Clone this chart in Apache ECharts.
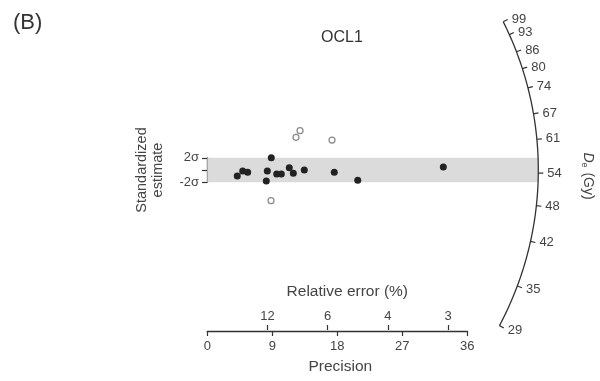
<!DOCTYPE html>
<html>
<head>
<meta charset="utf-8">
<script src="https://cdn.jsdelivr.net/npm/echarts@6/dist/echarts.min.js"></script>
<style>
  html, body { margin: 0; padding: 0; background: #fff; }
  #chart { width: 600px; height: 381px; }
</style>
</head>
<body>
<div id="chart"></div>
<script>
// values: precision (1/relative error) and standardized estimate
const inPrecision  = [4.15, 4.9, 5.59, 8.86, 8.31, 8.17, 9.61, 10.25, 11.35, 11.91, 13.43, 17.58, 20.83, 32.68];
const inStdEst     = [-0.99, -0.16, -0.38, 2.02, -0.16, -1.81, -0.66, -0.66, 0.38, -0.54, 0, -0.38, -1.70, 0.49];
// open circles = outside the 2 sigma band
const outPrecision = [12.28, 12.84, 17.27, 8.82];
const outStdEst    = [5.38, 6.46, 4.93, -5.05];

const centralDe = 54.6;   // Gy, the value on the horizontal line
const deTicks = [29, 35, 42, 48, 54, 61, 67, 74, 80, 86, 93, 99];
const relErrTicks = [12, 6, 4, 3];

const FONT = 'Liberation Sans, Arial, sans-serif';
const R = 331; // radius of the De arc, px

const inData = inPrecision.map((p, i) => [p, inStdEst[i]]);
const outData = outPrecision.map((p, i) => [p, outStdEst[i]]);

// angle (px space) of the ray from the origin for a given De
function rayAngle(api, o, v) {
  const p = api.coord([1, Math.log(v) - Math.log(centralDe)]);
  return Math.atan2(p[1] - o[1], p[0] - o[0]);
}

function renderBand(params, api) {
  const o = api.coord([0, 0]);
  const t = api.coord([0, 2]);
  const b = api.coord([0, -2]);
  const xt = o[0] + Math.sqrt(R * R - (t[1] - o[1]) ** 2);
  const xb = o[0] + Math.sqrt(R * R - (b[1] - o[1]) ** 2);
  return {
    type: 'polygon',
    shape: { points: [t, [xt, t[1]], [xb, b[1]], b] },
    style: { fill: '#dbdbdb' }
  };
}

function renderArc(params, api) {
  const o = api.coord([0, 0]);
  const a0 = rayAngle(api, o, deTicks[0]);
  const a1 = rayAngle(api, o, deTicks[deTicks.length - 1]);
  const pts = [];
  for (let i = 0; i <= 90; i++) {
    const a = a0 + (a1 - a0) * i / 90;
    pts.push([o[0] + R * Math.cos(a), o[1] + R * Math.sin(a)]);
  }
  const children = [{
    type: 'polyline', shape: { points: pts },
    style: { stroke: '#333', lineWidth: 1.3, fill: null }
  }];
  deTicks.forEach(v => {
    const a = rayAngle(api, o, v), c = Math.cos(a), s = Math.sin(a);
    const ex = o[0] + (R + 5) * c, ey = o[1] + (R + 5) * s;
    children.push({
      type: 'line',
      shape: { x1: o[0] + R * c, y1: o[1] + R * s, x2: ex, y2: ey },
      style: { stroke: '#333', lineWidth: 1.2 }
    });
    children.push({
      type: 'text',
      x: ex + 4, y: ey + (s > 0.3 ? 2 : 0),
      style: { text: String(v), align: 'left', verticalAlign: 'middle', fontSize: 13, fill: '#444', fontFamily: FONT }
    });
  });
  return { type: 'group', children };
}

const chart = echarts.init(document.getElementById('chart'));
chart.setOption({
  animation: false,
  backgroundColor: '#fff',
  textStyle: { fontFamily: FONT },
  title: {
    text: 'OCL1', left: 321, top: 30, padding: 0,
    textStyle: { fontSize: 16, fontWeight: 'normal', color: '#333', fontFamily: FONT }
  },
  graphic: [
    { type: 'text', left: 13, top: 12, style: { text: '(B)', fontSize: 22, fill: '#333', fontFamily: FONT } },
    {
      type: 'text', x: 588, y: 176, rotation: -Math.PI / 2,
      style: {
        text: '{d|D}{e|e} (Gy)', fontSize: 14, fill: '#444', fontFamily: FONT,
        align: 'center', verticalAlign: 'middle',
        rich: {
          d: { fontStyle: 'italic', fontSize: 14, fontFamily: FONT, fill: '#444' },
          e: { fontSize: 9, fontFamily: FONT, fill: '#444', verticalAlign: 'bottom', padding: [7, 1, 0, 0] }
        }
      }
    }
  ],
  grid: [
    { left: 207.3, top: 18, width: 260, height: 304 },   // plot area
    { left: 207.3, top: 330, width: 260, height: 1 },    // precision / relative error axes
    { left: 207, top: 157.84, width: 1, height: 24.32 }  // +-2 sigma bracket
  ],
  xAxis: [
    { gridIndex: 0, type: 'value', min: 0, max: 36, show: false },
    {
      gridIndex: 1, type: 'value', min: 0, max: 36, interval: 9, position: 'bottom',
      axisLine: { lineStyle: { color: '#333', width: 1.3 } },
      axisTick: { length: 5, lineStyle: { color: '#333', width: 1.2 } },
      axisLabel: { fontSize: 13, color: '#444', margin: 9 },
      splitLine: { show: false },
      name: 'Precision', nameLocation: 'middle', nameGap: 28,
      nameTextStyle: { fontSize: 15.5, color: '#444', padding: [0, 0, 0, 6] }
    },
    {
      gridIndex: 1, type: 'value', min: 0, max: 36, position: 'top',
      axisLine: { show: false },
      axisTick: { length: 5, customValues: relErrTicks.map(r => 100 / r), lineStyle: { color: '#333', width: 1.2 } },
      axisLabel: {
        fontSize: 13, color: '#444', margin: 7,
        customValues: relErrTicks.map(r => 100 / r),
        formatter: v => String(Math.round(100 / v))
      },
      splitLine: { show: false },
      name: 'Relative error (%)', nameLocation: 'middle', nameGap: 30,
      nameTextStyle: { fontSize: 15.5, color: '#444', padding: [0, 0, 0, 20] }
    },
    { gridIndex: 2, type: 'value', min: 0, max: 1, show: false }
  ],
  yAxis: [
    { gridIndex: 0, type: 'value', min: -25, max: 25, show: false },
    { gridIndex: 1, type: 'value', min: 0, max: 1, show: false },
    {
      gridIndex: 2, type: 'value', min: -2, max: 2, interval: 2,
      axisLine: { show: true, lineStyle: { color: '#333', width: 1.3 } },
      axisTick: { show: true, length: 5, lineStyle: { color: '#333', width: 1.2 } },
      axisLabel: {
        fontSize: 13, color: '#444', margin: 8,
        formatter: v => (v === 2 ? '2σ' : v === -2 ? '-2σ' : '')
      },
      splitLine: { show: false },
      name: 'Standardized\nestimate', nameLocation: 'middle', nameRotate: 90, nameGap: 41,
      nameTextStyle: { fontSize: 14.5, color: '#444', lineHeight: 16 }
    }
  ],
  series: [
    { type: 'custom', xAxisIndex: 0, yAxisIndex: 0, data: [[0, 0]], renderItem: renderBand, z: 1, silent: true },
    { type: 'custom', xAxisIndex: 0, yAxisIndex: 0, data: [[0, 0]], renderItem: renderArc, z: 2, silent: true },
    {
      type: 'scatter', xAxisIndex: 0, yAxisIndex: 0, data: inData, symbolSize: 7, z: 5,
      itemStyle: { color: '#222', opacity: 1 }
    },
    {
      type: 'scatter', xAxisIndex: 0, yAxisIndex: 0, data: outData, symbolSize: 6, z: 5,
      itemStyle: { color: '#fff', borderColor: '#888', borderWidth: 1.2, opacity: 1 }
    }
  ]
});
</script>
</body>
</html>
